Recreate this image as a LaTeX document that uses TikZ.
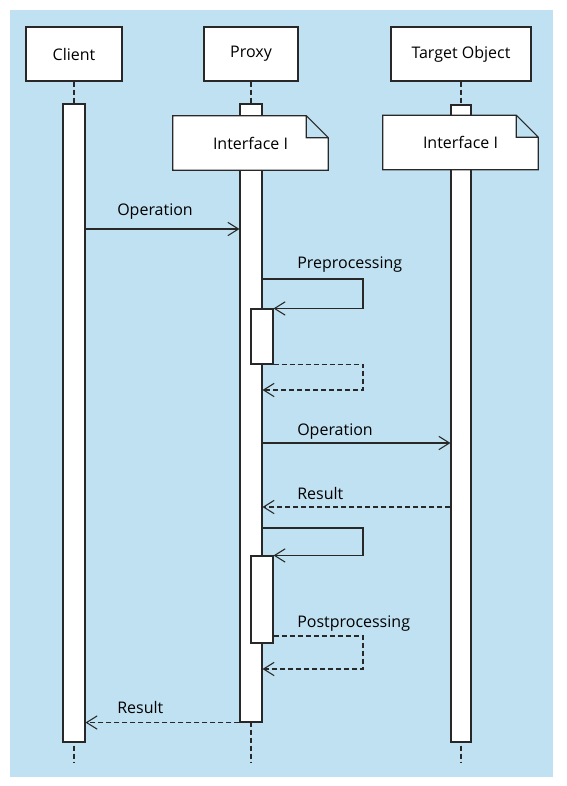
\documentclass[tikz,border=0pt]{standalone}
\usepackage{fontspec}
\setmainfont{Open Sans}
\usepackage{xcolor}
\usepackage{tikz}
\usetikzlibrary{arrows.meta}

\definecolor{bgblue}{RGB}{191,225,241}
\definecolor{linegray}{RGB}{40,40,40}

\pgfdeclarelayer{back}
\pgfsetlayers{back,main}

\begin{document}
\begin{tikzpicture}[x=0.75pt, y=-0.75pt,
        font=\fontsize{12}{14}\selectfont,
        objbox/.style={draw=linegray, line width=0.8pt, fill=white, minimum height=40.5pt, inner sep=0pt},
        notebox/.style={minimum width=116.25pt, minimum height=40.5pt, inner sep=0pt},
        notefold/.style={draw=linegray, fill=white, line width=0.8pt},
        actbar/.style={draw=linegray, fill=white, line width=0.8pt, minimum width=16.5pt, inner sep=0pt},
        lifeline/.style={draw=linegray, line width=0.8pt, dash pattern=on 3.75pt off 2.25pt},
        msg/.style={draw=linegray, line width=0.8pt, -{Straight Barb[length=8pt, width=10pt]}},
        reply/.style={msg, dash pattern=on 3.75pt off 2.25pt},
        lbl/.style={anchor=west, inner sep=0pt, yshift=-1.8pt}]
        \useasboundingbox (0,0) rectangle (567,786);

        % Objects
        \node[objbox, minimum width=72pt] (client) at (74,54) {Client};
        \node[objbox, minimum width=70.5pt] (proxy) at (251,54) {Proxy};
        \node[objbox, minimum width=105pt] (target) at (461,54) {Target Object};

        % Interfaces
        \node[notebox] (proxynote) at (250.5,143) {Interface I};
        \node[notebox] (targetnote) at (460.5,142.5) {Interface I};

        % Rows
        \coordinate (lineend) at (0,762);
        \coordinate (loopr) at (363,0);
        \coordinate (m1) at (0,229);
        \coordinate (m2) at (0,279);
        \coordinate (r1) at (0,390);
        \coordinate (m3) at (0,443);
        \coordinate (r2) at (0,507);
        \coordinate (m4) at (0,528);
        \coordinate (r3) at (0,636);
        \coordinate (r4) at (0,669);

        \begin{pgfonlayer}{back}
            \fill[bgblue] (10,10) rectangle (553,777);
            % Lifelines
            \foreach \obj in {client,proxy,target}
                \draw[lifeline] (\obj.south) -- (\obj.south |- lineend);
            % Activations
            \node[actbar, minimum height=478.5pt] (clientact) at (74,423) {};
            \node[actbar, minimum height=463.5pt] (proxyact) at (251,413) {};
            \node[actbar, minimum width=15pt, minimum height=477.75pt] (targetact) at (461,423.5) {};
            \node[actbar, minimum height=41.25pt] (preact) at (262,336.5) {};
            \node[actbar, minimum height=65.25pt] (postact) at (262,599.5) {};
            % Note outlines
            \foreach \n in {proxynote,targetnote}
                \draw[notefold] (\n.north west) -- ([xshift=-16.5pt]\n.north east)
                    -- ([yshift=-16.5pt]\n.north east) -- (\n.south east) -- (\n.south west) -- cycle
                    ([xshift=-16.5pt]\n.north east) |- ([yshift=-16.5pt]\n.north east);
        \end{pgfonlayer}

        % Messages
        \draw[msg] (clientact.east |- m1) -- (proxyact.west |- m1);
        \draw[msg] (proxyact.east |- m2) -- (loopr |- m2) -- (loopr |- preact.north) -- (preact.north east);
        \draw[reply] (preact.south east) -- (loopr |- preact.south) -- (loopr |- r1) -- (proxyact.east |- r1);
        \draw[msg] (proxyact.east |- m3) -- (targetact.west |- m3);
        \draw[reply] (targetact.west |- r2) -- (proxyact.east |- r2);
        \draw[msg] (proxyact.east |- m4) -- (loopr |- m4) -- (loopr |- postact.north) -- (postact.north east);
        \draw[reply] (postact.east |- r3) -- (loopr |- r3) -- (loopr |- r4) -- (proxyact.east |- r4);
        \draw[reply] (proxyact.south west) -- (clientact.east |- proxyact.south);

        % Labels
        \node[lbl] (oplabel) at (117,209) {Operation};
        \node[lbl] (prelabel) at (297,262) {Preprocessing};
        \node[lbl] (fwdlabel) at (297,429) {Operation};
        \node[lbl] (reslabel) at (297,491) {Result};
        \node[lbl] (postlabel) at (297,621) {Postprocessing};
        \node[lbl] (retlabel) at (117,705) {Result};
    \end{tikzpicture}
\end{document}
